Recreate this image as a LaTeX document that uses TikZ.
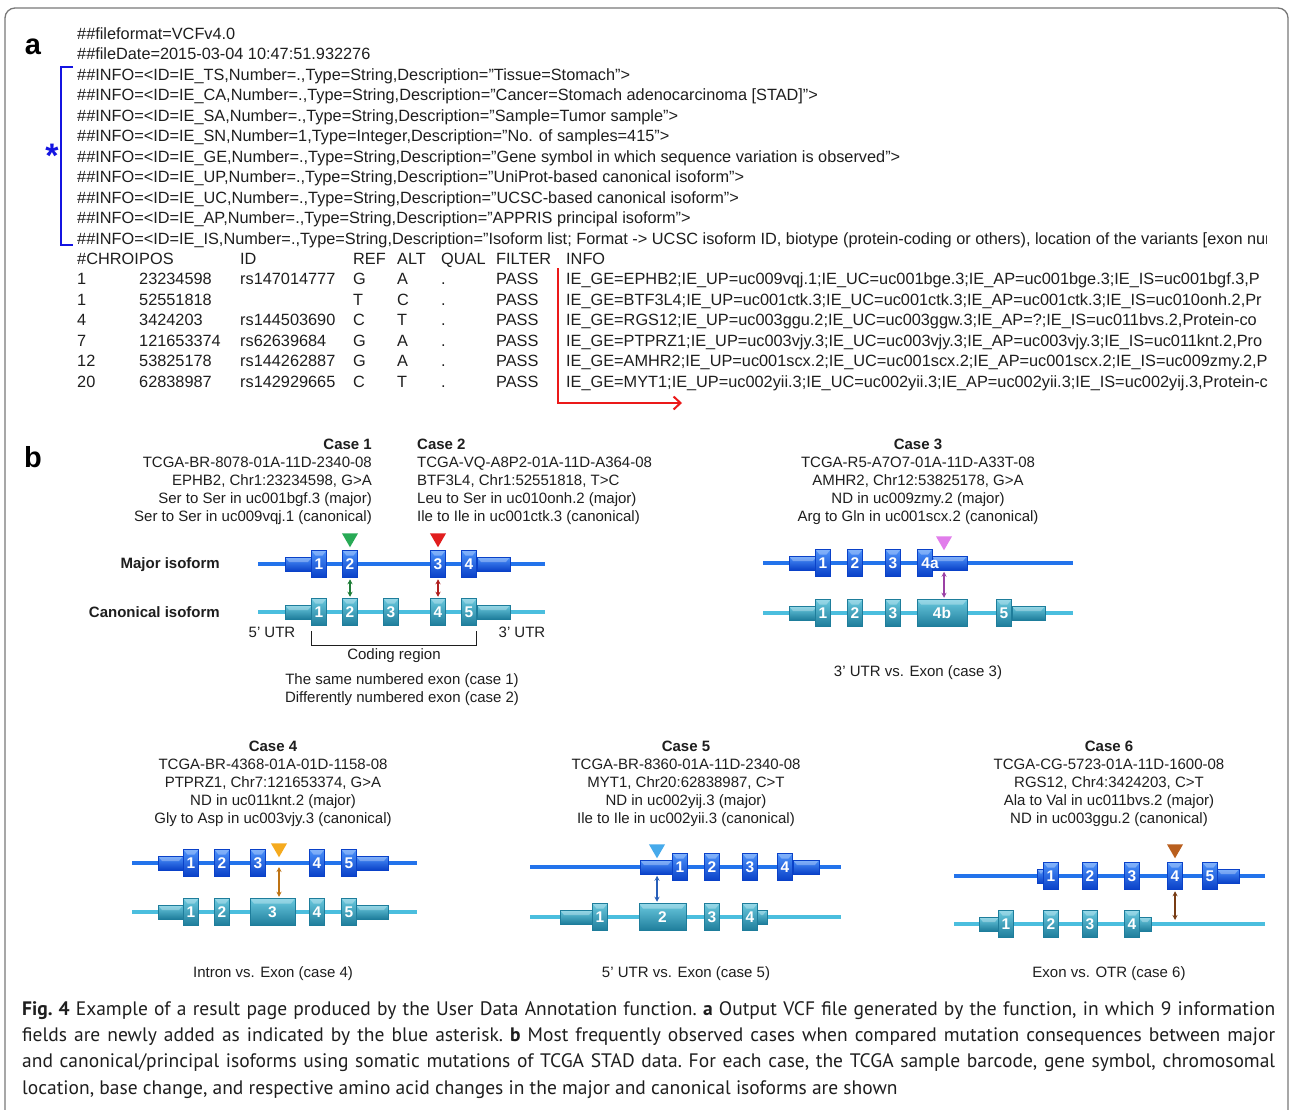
\documentclass[tikz,border=0pt]{standalone}
\usepackage{fontspec}
\setmainfont{Liberation Sans}
\newfontfamily\capfont{PT Sans}
\usetikzlibrary{arrows.meta, shapes.geometric}
\definecolor{FrameGray}{RGB}{120,120,120}
\definecolor{InkGray}{RGB}{30,30,30}
\definecolor{StarBlue}{RGB}{20,20,225}
\definecolor{ArrowRed}{RGB}{235,25,25}
\definecolor{MajLight}{RGB}{75,145,250}
\definecolor{MajDark}{RGB}{10,65,200}
\definecolor{MajLine}{RGB}{35,115,235}
\definecolor{CanLight}{RGB}{105,200,222}
\definecolor{CanDark}{RGB}{30,125,155}
\definecolor{CanLine}{RGB}{75,190,222}
\definecolor{MutGreen}{RGB}{40,170,85}
\definecolor{MutRed}{RGB}{225,30,30}
\definecolor{MutPink}{RGB}{225,125,235}
\definecolor{MutOrange}{RGB}{245,170,30}
\definecolor{MutSky}{RGB}{70,170,235}
\definecolor{MutBrown}{RGB}{185,95,30}
\definecolor{LinkGreen}{RGB}{30,125,55}
\definecolor{LinkRed}{RGB}{175,30,30}
\definecolor{LinkPurple}{RGB}{155,65,165}
\definecolor{LinkOrange}{RGB}{190,115,20}
\definecolor{LinkBlue}{RGB}{40,95,185}
\definecolor{LinkBrown}{RGB}{120,60,20}
\tikzset{
  vcf/.style={anchor=base west, inner sep=0, text=InkGray,
    font=\fontsize{16.3}{16.3}\selectfont},
  casetxt/.style={inner sep=0, text=InkGray, font=\fontsize{15}{18}\selectfont},
  lbl/.style={inner sep=0, text=InkGray, font=\fontsize{15}{18}\selectfont},
  isolbl/.style={anchor=east, inner sep=0, text=InkGray,
    font=\bfseries\fontsize{15}{18}\selectfont},
  panel/.style={inner sep=0, text=black, font=\bfseries\fontsize{29}{29}\selectfont},
  exbase/.style={rectangle, inner sep=0, minimum width=15, minimum height=27,
    text=white, font=\bfseries\fontsize{15.5}{15.5}\selectfont, line width=0.5pt,
    path picture={\fill[white, opacity=0.3]
      (path picture bounding box.north west) -- (path picture bounding box.north east)
      -- ([xshift=-4pt, yshift=-5pt]path picture bounding box.north east)
      -- ([xshift=4pt, yshift=-5pt]path picture bounding box.north west) -- cycle;}},
  majex/.style={exbase, top color=MajLight, bottom color=MajDark, draw=MajDark},
  canex/.style={exbase, top color=CanLight, bottom color=CanDark, draw=CanDark},
  majutr/.style={majex, minimum height=14},
  canutr/.style={canex, minimum height=14},
  majline/.style={line width=4.5pt, MajLine},
  canline/.style={line width=4.5pt, CanLine},
  mut/.style={regular polygon, regular polygon sides=3, shape border rotate=180,
    minimum size=18.5, inner sep=0},
  link/.style={<->, >={Stealth[length=5pt, width=5pt]}, line width=1.3pt,
    shorten <=1.5pt, shorten >=1.5pt},
}

\begin{document}
\begin{tikzpicture}[x=1pt, y=-1pt]
  \useasboundingbox (0,0) rectangle (1289,1109);
  \fill[white] (0,0) rectangle (1289,1109);
  \draw[FrameGray, line width=1.3pt, rounded corners=10pt]
    (5,1130) -- (5,8) -- (1288,8) -- (1288,1130);

  % panel a: VCF output
  \node[panel] (pa) at (33,47) {a};
  \node[vcf] (v0) at (77,39) {\#\#fileformat=VCFv4.0};
  \node[vcf] (v1) at (77,59.5) {\#\#fileDate=2015-03-04 10:47:51.932276};
  \node[vcf] (v2) at (77,80) {\#\#INFO=<ID=IE\_TS,Number=.,Type=String,Description="Tissue=Stomach">};
  \node[vcf] (v3) at (77,100.5) {\#\#INFO=<ID=IE\_CA,Number=.,Type=String,Description="Cancer=Stomach adenocarcinoma [STAD]">};
  \node[vcf] (v4) at (77,121) {\#\#INFO=<ID=IE\_SA,Number=.,Type=String,Description="Sample=Tumor sample">};
  \node[vcf] (v5) at (77,141.5) {\#\#INFO=<ID=IE\_SN,Number=1,Type=Integer,Description="No. of samples=415">};
  \node[vcf] (v6) at (77,162) {\#\#INFO=<ID=IE\_GE,Number=.,Type=String,Description="Gene symbol in which sequence variation is observed">};
  \node[vcf] (v7) at (77,182.5) {\#\#INFO=<ID=IE\_UP,Number=.,Type=String,Description="UniProt-based canonical isoform">};
  \node[vcf] (v8) at (77,203) {\#\#INFO=<ID=IE\_UC,Number=.,Type=String,Description="UCSC-based canonical isoform">};
  \node[vcf] (v9) at (77,223.5) {\#\#INFO=<ID=IE\_AP,Number=.,Type=String,Description="APPRIS principal isoform">};
  \begin{scope}
    \clip (0,230) rectangle (1266,250);
    \node[vcf] (v10) at (77,244) {\#\#INFO=<ID=IE\_IS,Number=.,Type=String,Description="Isoform list; Format -> UCSC isoform ID, biotype (protein-coding or others), location of the variants [exon num};
  \end{scope}
  \foreach \c/\p/\d/\r/\a/\q/\f/\s [count=\i from 0] in {
    \#CHROI/POS/ID/REF/ALT/QUAL/FILTER/INFO,
    1/23234598/rs147014777/G/A/./PASS/{IE\_GE=EPHB2;IE\_UP=uc009vqj.1;IE\_UC=uc001bge.3;IE\_AP=uc001bge.3;IE\_IS=uc001bgf.3,P},
    1/52551818/{}/T/C/./PASS/{IE\_GE=BTF3L4;IE\_UP=uc001ctk.3;IE\_UC=uc001ctk.3;IE\_AP=uc001ctk.3;IE\_IS=uc010onh.2,Pr},
    4/3424203/rs144503690/C/T/./PASS/{IE\_GE=RGS12;IE\_UP=uc003ggu.2;IE\_UC=uc003ggw.3;IE\_AP=?;IE\_IS=uc011bvs.2,Protein-co},
    7/121653374/rs62639684/G/A/./PASS/{IE\_GE=PTPRZ1;IE\_UP=uc003vjy.3;IE\_UC=uc003vjy.3;IE\_AP=uc003vjy.3;IE\_IS=uc011knt.2,Pro},
    12/53825178/rs144262887/G/A/./PASS/{IE\_GE=AMHR2;IE\_UP=uc001scx.2;IE\_UC=uc001scx.2;IE\_AP=uc001scx.2;IE\_IS=uc009zmy.2,P},
    20/62838987/rs142929665/C/T/./PASS/{IE\_GE=MYT1;IE\_UP=uc002yii.3;IE\_UC=uc002yii.3;IE\_AP=uc002yii.3;IE\_IS=uc002yij.3,Protein-c}}
  {
    \node[vcf] (chr\i) at (77,264+20.5*\i) {\c};
    \node[vcf] (pos\i) at (139,264+20.5*\i) {\p};
    \node[vcf] (id\i) at (240,264+20.5*\i) {\d};
    \node[vcf] (ref\i) at (353,264+20.5*\i) {\r};
    \node[vcf] (alt\i) at (397,264+20.5*\i) {\a};
    \node[vcf] (qual\i) at (441,264+20.5*\i) {\q};
    \node[vcf] (flt\i) at (496,264+20.5*\i) {\f};
    \node[vcf] (info\i) at (566,264+20.5*\i) {\s};
  }
  \draw[StarBlue, line width=2.2pt] (73,67) -- (61,67) -- (61,245) -- (73,245);
  \node[anchor=base, inner sep=0, text=StarBlue, font=\bfseries\fontsize{34}{34}\selectfont]
    (star) at (52,167) {*};
  \coordinate (rTop) at (558,268);
  \coordinate (rEnd) at (682,403);
  \draw[ArrowRed, line width=2pt, -{Straight Barb[length=7pt, width=13pt]}]
    (rTop) |- (rEnd);

  % panel b
  \node[panel] (pb) at (33,457) {b};

  % case 1 and case 2
  \node[casetxt, anchor=north east, align=right] (t1) at (372,439)
    {\textbf{Case 1}\\TCGA-BR-8078-01A-11D-2340-08\\EPHB2, Chr1:23234598, G>A\\
     Ser to Ser in uc001bgf.3 (major)\\Ser to Ser in uc009vqj.1 (canonical)};
  \node[casetxt, anchor=north west, align=left] (t2) at (417,439)
    {\textbf{Case 2}\\TCGA-VQ-A8P2-01A-11D-A364-08\\BTF3L4, Chr1:52551818, T>C\\
     Leu to Ser in uc010onh.2 (major)\\Ile to Ile in uc001ctk.3 (canonical)};
  \node[isolbl] (majlbl) at (220,565) {Major isoform};
  \node[isolbl] (canlbl) at (220,612) {Canonical isoform};
  \draw[majline] (258,564) -- (545,564);
  \node[majutr, minimum width=27] (aMu1) at (298.5,564) {};
  \node[majutr, minimum width=33] (aMu2) at (493.5,564) {};
  \foreach \x/\n in {319/1, 350/2, 438/3, 469/4}
    \node[majex] (aM\n) at (\x,564) {\n};
  \draw[canline] (258,612) -- (545,612);
  \node[canutr, minimum width=27] (aCu1) at (298.5,612) {};
  \node[canutr, minimum width=33] (aCu2) at (493.5,612) {};
  \foreach \x/\n in {319/1, 350/2, 391/3, 438/4, 469/5}
    \node[canex] (aC\n) at (\x,612) {\n};
  \node[mut, fill=MutGreen] (aT1) at (350,538) {};
  \node[mut, fill=MutRed] (aT2) at (438,538) {};
  \draw[link, LinkGreen] (aM2.south) -- (aC2.north);
  \draw[link, LinkRed] (aM3.south) -- (aC4.north);
  \draw[InkGray, line width=1pt] ([yshift=-5pt]aC1.south west) -- ++(0,15)
    -| ([yshift=-5pt]aC5.south east);
  \node[lbl] (utr5) at (272,632) {5’ UTR};
  \node[lbl] (utr3) at (522,632) {3’ UTR};
  \node[lbl] (coding) at (394,656) {Coding region};
  \node[lbl, align=center] (s12) at (402,690)
    {The same numbered exon (case 1)\\Differently numbered exon (case 2)};

  % case 3
  \node[casetxt, anchor=north, align=center] (t3) at (918,439)
    {\textbf{Case 3}\\TCGA-R5-A7O7-01A-11D-A33T-08\\AMHR2, Chr12:53825178, G>A\\
     ND in uc009zmy.2 (major)\\Arg to Gln in uc001scx.2 (canonical)};
  \draw[majline] (763,563) -- (1073,563);
  \node[majutr, minimum width=28] (bMu1) at (803,563) {};
  \node[majutr, minimum width=35] (bMu2) at (949.5,563) {};
  \foreach \x/\n in {823/1, 855/2, 893/3}
    \node[majex] (bM\n) at (\x,563) {\n};
  \node[majex] (bM4) at (924.5,563) {};
  \node[inner sep=0, text=white, font=\bfseries\fontsize{15.5}{15.5}\selectfont]
    (bM4lab) at (930,563) {4a};
  \draw[canline] (763,613) -- (1073,613);
  \node[canutr, minimum width=28] (bCu1) at (803,613) {};
  \node[canutr, minimum width=33] (bCu2) at (1028.5,613) {};
  \foreach \x/\n in {823/1, 855/2, 893/3, 1004/5}
    \node[canex] (bC\n) at (\x,613) {\n};
  \node[canex, minimum width=50] (bC4) at (942,613) {4b};
  \node[mut, fill=MutPink] (bT) at (944,541) {};
  \draw[link, LinkPurple] (bT |- bMu2.south) -- (bT |- bC4.north);
  \node[lbl] (s3) at (918,673) {3’ UTR vs. Exon (case 3)};

  % case 4
  \node[casetxt, anchor=north, align=center] (t4) at (273,741)
    {\textbf{Case 4}\\TCGA-BR-4368-01A-01D-1158-08\\PTPRZ1, Chr7:121653374, G>A\\
     ND in uc011knt.2 (major)\\Gly to Asp in uc003vjy.3 (canonical)};
  \draw[majline] (132,863) -- (417,863);
  \node[majutr, minimum width=25] (cMu1) at (170.5,863) {};
  \node[majutr, minimum width=32] (cMu2) at (372,863) {};
  \foreach \x/\n in {191/1, 222/2, 258/3, 317/4, 349/5}
    \node[majex] (cM\n) at (\x,863) {\n};
  \draw[canline] (132,912) -- (417,912);
  \node[canutr, minimum width=25] (cCu1) at (170.5,912) {};
  \node[canutr, minimum width=32] (cCu2) at (372,912) {};
  \foreach \x/\n in {191/1, 222/2, 317/4, 349/5}
    \node[canex] (cC\n) at (\x,912) {\n};
  \node[canex, minimum width=45] (cC3) at (272.5,912) {3};
  \node[mut, fill=MutOrange] (cT) at (279,848) {};
  \coordinate (cJ) at (279,865.5);
  \draw[link, LinkOrange] (cJ) -- (cT |- cC3.north);
  \node[lbl] (s4) at (273,974) {Intron vs. Exon (case 4)};

  % case 5
  \node[casetxt, anchor=north, align=center] (t5) at (686,741)
    {\textbf{Case 5}\\TCGA-BR-8360-01A-11D-2340-08\\MYT1, Chr20:62838987, C>T\\
     ND in uc002yij.3 (major)\\Ile to Ile in uc002yii.3 (canonical)};
  \draw[majline] (530,867) -- (841,867);
  \node[majutr, minimum width=32] (dMu1) at (656,867) {};
  \node[majutr, minimum width=26] (dMu2) at (806,867) {};
  \foreach \x/\n in {680/1, 712/2, 750/3, 785/4}
    \node[majex] (dM\n) at (\x,867) {\n};
  \draw[canline] (530,917) -- (841,917);
  \node[canutr, minimum width=33] (dCu1) at (576.5,917) {};
  \node[canutr, minimum width=10] (dCu2) at (762,917) {};
  \foreach \x/\n in {600/1, 712/3, 750/4}
    \node[canex] (dC\n) at (\x,917) {\n};
  \node[canex, minimum width=47] (dC2) at (662.5,917) {2};
  \node[mut, fill=MutSky] (dT) at (657,849) {};
  \draw[link, LinkBlue] (dT |- dMu1.south) -- (dT |- dC2.north);
  \node[lbl] (s5) at (686,974) {5’ UTR vs. Exon (case 5)};

  % case 6
  \node[casetxt, anchor=north, align=center] (t6) at (1109,741)
    {\textbf{Case 6}\\TCGA-CG-5723-01A-11D-1600-08\\RGS12, Chr4:3424203, C>T\\
     Ala to Val in uc011bvs.2 (major)\\ND in uc003ggu.2 (canonical)};
  \draw[majline] (954,876) -- (1265,876);
  \node[majutr, minimum width=8] (eMu1) at (1041,876) {};
  \node[majutr, minimum width=22] (eMu2) at (1228,876) {};
  \foreach \x/\n in {1051/1, 1090/2, 1132/3, 1175/4, 1210/5}
    \node[majex] (eM\n) at (\x,876) {\n};
  \draw[canline] (954,924) -- (1265,924);
  \node[canutr, minimum width=20] (eCu1) at (989,924) {};
  \node[canutr, minimum width=13] (eCu2) at (1145,924) {};
  \foreach \x/\n in {1006/1, 1051/2, 1090/3, 1132/4}
    \node[canex] (eC\n) at (\x,924) {\n};
  \node[mut, fill=MutBrown] (eT) at (1175,849) {};
  \coordinate (eJ) at (1175,921.5);
  \draw[link, LinkBrown] (eM4.south) -- (eJ);
  \node[lbl] (s6) at (1109,974) {Exon vs. OTR (case 6)};

  % caption
  \node[anchor=north west, inner sep=0, text width=1253pt, align=justify,
    text=InkGray, font=\capfont\fontsize{19.5}{26.4}\selectfont] (cap) at (22,1001)
    {\frenchspacing\hyphenpenalty=10000 \textbf{Fig. 4} Example of a result page produced
     by the User Data Annotation function. \textbf{a} Output VCF file generated by the
     function, in which 9 information\linebreak fields are newly added as indicated by the
     blue asterisk. \textbf{b} Most frequently observed cases when compared mutation
     consequences between major\linebreak and canonical/principal isoforms using somatic
     mutations of TCGA STAD data. For each case, the TCGA sample barcode, gene symbol,
     chromosomal\linebreak location, base change, and respective amino acid changes in the
     major and canonical isoforms are shown};
\end{tikzpicture}
\end{document}
